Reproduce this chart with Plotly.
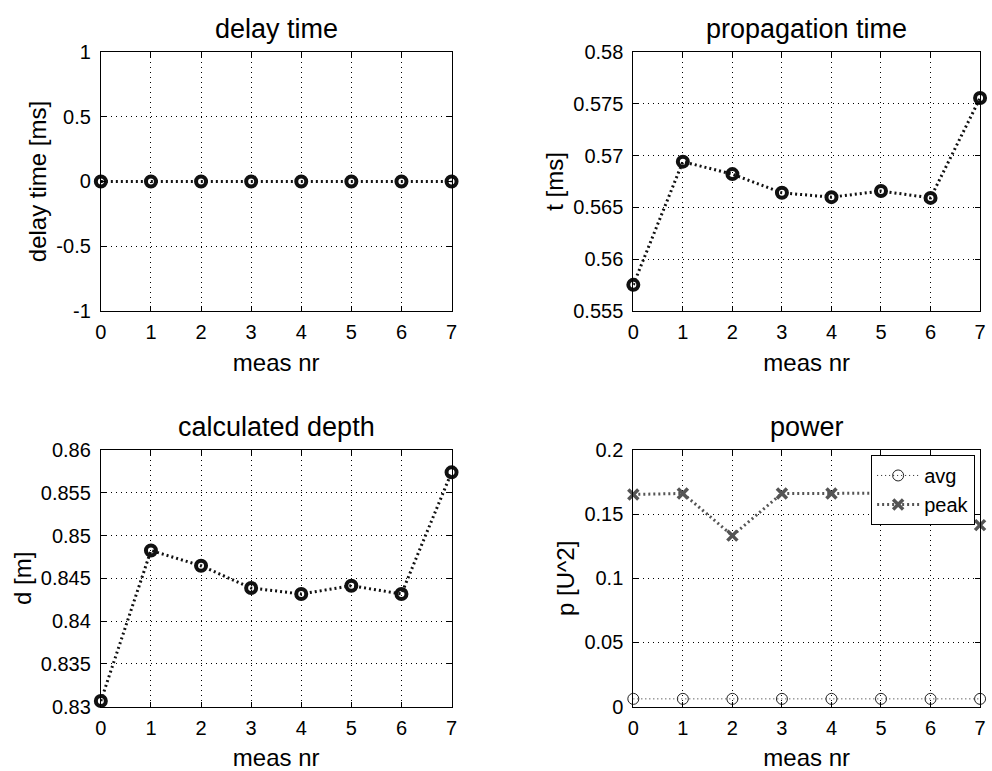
import plotly.graph_objects as go

# ---------------- data ----------------
meas_nr = [0, 1, 2, 3, 4, 5, 6, 7]
delay_time = [0, 0, 0, 0, 0, 0, 0, 0]
prop_time = [0.55754, 0.56941, 0.56821, 0.56641, 0.56599, 0.56658, 0.56592, 0.57554]
depth = [0.83065, 0.84826, 0.84647, 0.84387, 0.84317, 0.84414, 0.84317, 0.85740]
power_avg = [0.006, 0.006, 0.006, 0.006, 0.006, 0.006, 0.006, 0.006]
power_peak = [0.1654, 0.1662, 0.1333, 0.1662, 0.1662, 0.1665, 0.1662, 0.1415]

titles = ["delay time", "propagation time", "calculated depth", "power"]
ylabels = ["delay time [ms]", "t [ms]", "d [m]", "p [U^2]"]
xlabel = "meas nr"

x_ticks = [0, 1, 2, 3, 4, 5, 6, 7]
delay_ticks = [-1, -0.5, 0, 0.5, 1]
delay_ticktext = ["-1", "-0.5", "0", "0.5", "1"]
prop_ticks = [0.555, 0.56, 0.565, 0.57, 0.575, 0.58]
prop_ticktext = ["0.555", "0.56", "0.565", "0.57", "0.575", "0.58"]
depth_ticks = [0.83, 0.835, 0.84, 0.845, 0.85, 0.855, 0.86]
depth_ticktext = ["0.83", "0.835", "0.84", "0.845", "0.85", "0.855", "0.86"]
power_ticks = [0, 0.05, 0.1, 0.15, 0.2]
power_ticktext = ["0", "0.05", "0.1", "0.15", "0.2"]

# ---------------- layout geometry (figure pixels) ----------------
W, H = 992, 771
FONT = "Liberation Sans, Arial, Helvetica, sans-serif"
TICK_SIZE = 20
LABEL_SIZE = 24
TITLE_SIZE = 27


def xd(a, b):
    return [a / W, min(1, b / W)]


def yd(top, bottom):
    return [1 - bottom / H, 1 - top / H]


dom_x = [xd(96, 451), xd(635, 986), xd(96, 451), xd(635, 986)]
dom_y = [yd(42, 309), yd(42, 309), yd(452, 716), yd(452, 716)]

fig = go.Figure()

thick_line = dict(color="#111111", width=3, dash="2px,3px")
thick_marker = dict(symbol="circle-open", size=10, color="#111111",
                    line=dict(width=4, color="#111111"))

fig.add_trace(go.Scatter(x=meas_nr, y=delay_time, mode="lines+markers",
                         line=thick_line, marker=thick_marker,
                         xaxis="x", yaxis="y", showlegend=False, cliponaxis=False))
fig.add_trace(go.Scatter(x=meas_nr, y=prop_time, mode="lines+markers",
                         line=thick_line, marker=thick_marker,
                         xaxis="x2", yaxis="y2", showlegend=False, cliponaxis=False))
fig.add_trace(go.Scatter(x=meas_nr, y=depth, mode="lines+markers",
                         line=thick_line, marker=thick_marker,
                         xaxis="x3", yaxis="y3", showlegend=False, cliponaxis=False))
fig.add_trace(go.Scatter(x=meas_nr, y=power_avg, mode="lines+markers", name="avg",
                         line=dict(color="#222222", width=1, dash="1px,3px"),
                         marker=dict(symbol="circle-open", size=11, color="#222222",
                                     line=dict(width=1, color="#222222")),
                         xaxis="x4", yaxis="y4", legendgroup="a", cliponaxis=False))
fig.add_trace(go.Scatter(x=meas_nr, y=power_peak, mode="lines+markers", name="peak",
                         line=dict(color="#555555", width=3, dash="2px,3px"),
                         marker=dict(symbol="x-thin-open", size=10, color="#555555",
                                     line=dict(width=3.5, color="#555555")),
                         xaxis="x4", yaxis="y4", legendgroup="b", cliponaxis=False))

yranges = [[-1, 1], [0.555, 0.58], [0.83, 0.86], [0, 0.2]]
ytv = [delay_ticks, prop_ticks, depth_ticks, power_ticks]
ytt = [delay_ticktext, prop_ticktext, depth_ticktext, power_ticktext]

common = dict(showline=True, linecolor="black", linewidth=1, mirror="ticks",
              ticks="inside", ticklen=5, tickcolor="black", tickwidth=1,
              showgrid=True, gridcolor="black", gridwidth=1, griddash="1px,4px",
              zeroline=False, tickfont=dict(family=FONT, size=TICK_SIZE, color="black"))

for i in range(4):
    sfx = "" if i == 0 else str(i + 1)
    fig.layout["xaxis" + sfx] = dict(
        common, domain=dom_x[i], range=[0, 7], tickvals=x_ticks,
        anchor="y" + sfx,
        title=dict(text=xlabel, font=dict(family=FONT, size=LABEL_SIZE, color="black"),
                   standoff=12),
        ticklabelstandoff=3)
    fig.layout["yaxis" + sfx] = dict(
        common, domain=dom_y[i], range=yranges[i], tickvals=ytv[i], ticktext=ytt[i],
        anchor="x" + sfx,
        title=dict(text=ylabels[i], font=dict(family=FONT, size=LABEL_SIZE, color="black"),
                   standoff=2),
        ticklabelstandoff=5)

annotations = []
for i in range(4):
    cx = (dom_x[i][0] + dom_x[i][1]) / 2
    annotations.append(dict(text=titles[i], x=cx, y=dom_y[i][1], xref="paper", yref="paper",
                            xanchor="center", yanchor="bottom", yshift=6, showarrow=False,
                            font=dict(family=FONT, size=TITLE_SIZE, color="black")))

fig.update_layout(
    width=W, height=H,
    margin=dict(l=0, r=0, t=0, b=0),
    paper_bgcolor="white", plot_bgcolor="white",
    font=dict(family=FONT, color="black"),
    annotations=annotations,
    legend=dict(x=981 / W, y=1 - 457 / H, xanchor="right", yanchor="top",
                bgcolor="white", bordercolor="black", borderwidth=1,
                font=dict(family=FONT, size=20, color="black"),
                tracegroupgap=0, traceorder="grouped", itemwidth=42),
)

fig.write_html("out.html")
